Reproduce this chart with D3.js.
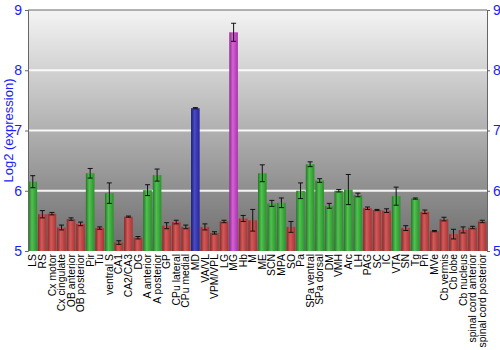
<!DOCTYPE html>
<html>
<head>
<meta charset="utf-8">
<script src="https://cdn.jsdelivr.net/npm/d3@7"></script>
<style>
  body { margin: 0; background: white; }
  text { font-family: "Liberation Sans", Arial, sans-serif; }
</style>
</head>
<body>
<div id="canvas"></div>
<script>
"use strict"

/* data */
let regions = ["LS", "RS", "Cx motor", "Cx cingulate", "OB anterior", "OB posterior", "Pir", "Tu",
  "ventral S", "CA1", "CA2/CA3", "DG", "A anterior", "A posterior", "GP", "CPu lateral", "CPu medial",
  "MD", "VA/VL", "VPM/VPL", "LG", "MG", "Hb", "M", "ME", "SCN", "MPA", "SO", "Pa", "SPa ventral",
  "SPa dorsal", "DM", "VMH", "Arc", "LH", "PAG", "SC", "IC", "VTA", "SN", "Tg", "Pn", "MVe",
  "Cb vermis", "Cb lobe", "Cb nucleus", "spinal cord anterior", "spinal cord posterior"];

let expression = [6.15, 5.61, 5.62, 5.39, 5.53, 5.45, 6.29, 5.38,
  5.96, 5.14, 5.57, 5.22, 6.01, 6.26, 5.42, 5.48, 5.40,
  7.37, 5.40, 5.30, 5.49, 8.63, 5.54, 5.51, 6.29, 5.79, 5.80, 5.40, 6.00, 6.44,
  6.17, 5.75, 6.00, 6.02, 5.93, 5.71, 5.68, 5.67, 5.91, 5.38, 5.87, 5.65, 5.33,
  5.53, 5.28, 5.35, 5.39, 5.49];

let errors = [0.10, 0.06, 0.02, 0.04, 0.02, 0.03, 0.08, 0.02,
  0.17, 0.03, 0.01, 0.02, 0.09, 0.10, 0.05, 0.03, 0.03,
  0.01, 0.05, 0.02, 0.02, 0.15, 0.05, 0.18, 0.14, 0.05, 0.08, 0.09, 0.13, 0.04,
  0.03, 0.04, 0.02, 0.25, 0.03, 0.02, 0.01, 0.03, 0.15, 0.04, 0.01, 0.03, 0.01,
  0.03, 0.08, 0.05, 0.02, 0.02];

/* r = red, g = green, b = blue, p = purple */
let groups = ["g", "r", "r", "r", "r", "r", "g", "r",
  "g", "r", "r", "r", "g", "g", "r", "r", "r",
  "b", "r", "r", "r", "p", "r", "r", "g", "g", "g", "r", "g", "g",
  "g", "g", "g", "g", "g", "r", "r", "r", "g", "r", "g", "r", "r",
  "r", "r", "r", "r", "r"];

let yTicks = [5, 6, 7, 8, 9];

let margin = { left: 28, right: 13, top: 10, bottom: 99 };
let width = 500, height = 350;

let drawing = d3.select("#canvas")
  .append("svg")
  .attr("width", width)
  .attr("height", height);

let x = d3.scaleBand()
  .domain(regions)
  .range([margin.left, width - margin.right])
  .paddingInner(0.1)
  .paddingOuter(0.05);

let y = d3.scaleLinear()
  .domain([5, 9])
  .range([height - margin.bottom, margin.top]);

/* gradients */
let defs = drawing.append("defs");

let bg = defs.append("linearGradient")
  .attr("id", "bg")
  .attr("x1", 0).attr("y1", 0).attr("x2", 0).attr("y2", 1);
bg.append("stop").attr("offset", "0%").attr("stop-color", "#f4f4f4");
bg.append("stop").attr("offset", "100%").attr("stop-color", "#6c6c6c");

let barColors = {
  r: ["#8e2424", "#d25a5a", "#a83434"],
  g: ["#1f7a1f", "#52c052", "#2a922a"],
  b: ["#1c1c7e", "#4a4ac4", "#262696"],
  p: ["#8e288e", "#d860d8", "#a834a8"]
};
Object.keys(barColors).forEach(function (k) {
  let g = defs.append("linearGradient")
    .attr("id", "bar-" + k)
    .attr("x1", 0).attr("y1", 0).attr("x2", 1).attr("y2", 0);
  g.append("stop").attr("offset", "0%").attr("stop-color", barColors[k][0]);
  g.append("stop").attr("offset", "40%").attr("stop-color", barColors[k][1]);
  g.append("stop").attr("offset", "100%").attr("stop-color", barColors[k][2]);
});

/* plot background */
let plotBg = drawing.append("rect")
  .attr("x", margin.left)
  .attr("y", margin.top)
  .attr("width", width - margin.left - margin.right)
  .attr("height", height - margin.top - margin.bottom)
  .attr("fill", "url(#bg)");

/* grid lines */
drawing.append("g")
  .selectAll("line")
  .data(yTicks.slice(1, -1))
  .join("line")
  .attr("x1", margin.left)
  .attr("x2", width - margin.right)
  .attr("y1", d => y(d))
  .attr("y2", d => y(d))
  .attr("stroke", "white")
  .attr("stroke-opacity", 0.9)
  .attr("stroke-width", 2);

/* bars */
let data = regions.map((r, i) => ({ region: r, value: expression[i], err: errors[i], group: groups[i] }));

drawing.append("g")
  .selectAll("rect")
  .data(data)
  .join("rect")
  .attr("x", d => x(d.region))
  .attr("y", d => y(d.value))
  .attr("width", x.bandwidth())
  .attr("height", d => y(5) - y(d.value))
  .attr("fill", d => "url(#bar-" + d.group + ")");

/* error bars */
let errG = drawing.append("g")
  .attr("stroke", "#111")
  .attr("stroke-width", 1);

errG.selectAll("line.stem")
  .data(data)
  .join("line")
  .attr("class", "stem")
  .attr("x1", d => x(d.region) + x.bandwidth() / 2)
  .attr("x2", d => x(d.region) + x.bandwidth() / 2)
  .attr("y1", d => y(d.value + d.err))
  .attr("y2", d => y(d.value - d.err));

errG.selectAll("line.capTop")
  .data(data)
  .join("line")
  .attr("class", "capTop")
  .attr("x1", d => x(d.region) + x.bandwidth() / 2 - 2.5)
  .attr("x2", d => x(d.region) + x.bandwidth() / 2 + 2.5)
  .attr("y1", d => y(d.value + d.err))
  .attr("y2", d => y(d.value + d.err));

errG.selectAll("line.capBottom")
  .data(data)
  .join("line")
  .attr("class", "capBottom")
  .attr("x1", d => x(d.region) + x.bandwidth() / 2 - 2.5)
  .attr("x2", d => x(d.region) + x.bandwidth() / 2 + 2.5)
  .attr("y1", d => y(d.value - d.err))
  .attr("y2", d => y(d.value - d.err));

/* top border */
drawing.append("line")
  .attr("x1", margin.left)
  .attr("x2", width - margin.right)
  .attr("y1", margin.top)
  .attr("y2", margin.top)
  .attr("stroke", "#666");

/* axes */
let leftAxis = drawing.append("g")
  .attr("transform", "translate(" + margin.left + ",0)")
  .call(d3.axisLeft(y).tickValues(yTicks).tickSize(3).tickFormat(d3.format("d")));

let rightAxis = drawing.append("g")
  .attr("transform", "translate(" + (width - margin.right) + ",0)")
  .call(d3.axisRight(y).tickValues(yTicks).tickSize(3).tickFormat(d3.format("d")));

[leftAxis, rightAxis].forEach(function (a) {
  a.select(".domain").attr("stroke", "#666");
  a.selectAll(".tick line").attr("stroke", "#666");
  a.selectAll(".tick text")
    .attr("fill", "#1a1aff")
    .style("font-size", "14px")
    .style("font-family", "'Liberation Sans', Arial, sans-serif");
});

/* category labels */
let xAxis = drawing.append("g")
  .attr("transform", "translate(0," + (height - margin.bottom) + ")")
  .call(d3.axisBottom(x).tickSize(0));
xAxis.select(".domain").remove();
xAxis.selectAll(".tick text")
  .attr("transform", "rotate(-90)")
  .attr("x", -3)
  .attr("y", 0)
  .attr("dy", "0.35em")
  .attr("text-anchor", "end")
  .attr("fill", "black")
  .style("font-size", "10.4px")
  .style("font-family", "'Liberation Sans', Arial, sans-serif");

/* y title */
drawing.append("text")
  .attr("transform", "translate(13," + y(7) + ") rotate(-90)")
  .attr("text-anchor", "middle")
  .attr("fill", "#1a1aff")
  .style("font-size", "13px")
  .text("Log2 (expression)");
</script>
</body>
</html>
